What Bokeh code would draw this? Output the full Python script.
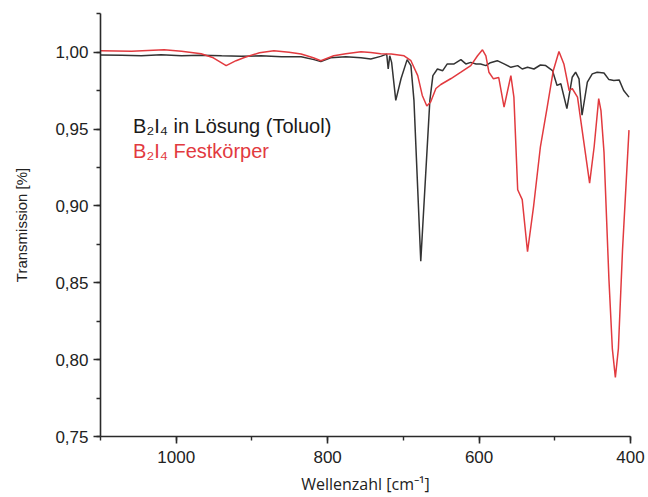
from bokeh.plotting import figure
from bokeh.models import Range1d, SingleIntervalTicker, CustomJSTickFormatter, Label
from bokeh.embed import file_html
from bokeh.resources import INLINE

# ---- data ----
wn_black = [1100, 1072, 1046, 1020, 993, 967, 940, 914, 888, 861,
            835, 818, 809, 796, 776, 756, 743, 730, 722, 720,
            718, 715.5, 710, 703, 695, 690, 686, 677, 665, 661,
            655, 648, 642, 633, 624, 617.5, 611, 604, 598, 591,
            585, 576, 567, 558, 549, 543, 536, 527.5, 519, 512,
            503, 497, 492, 484, 477, 472.5, 468, 464, 457, 450.5,
            444, 435, 428.5, 422, 415, 409, 402]
t_black = [0.9982, 0.9981, 0.9977, 0.9984, 0.9977, 0.9981, 0.9977, 0.9974, 0.9977, 0.9971,
           0.9971, 0.9952, 0.9939, 0.9964, 0.9971, 0.9964, 0.9956, 0.9973, 0.9988, 0.9891,
           0.9977, 0.9934, 0.9687, 0.9829, 0.9952, 0.9913, 0.9687, 0.864, 0.9687, 0.9848,
           0.9891, 0.9880, 0.9924, 0.9924, 0.9952, 0.9924, 0.9934, 0.9924, 0.9924, 0.9913,
           0.9932, 0.9945, 0.9924, 0.9902, 0.9913, 0.9891, 0.9902, 0.9891, 0.9917, 0.9913,
           0.9880, 0.9784, 0.9795, 0.9633, 0.9837, 0.9870, 0.9827, 0.9590, 0.9805, 0.9859,
           0.9870, 0.9865, 0.9822, 0.9816, 0.9820, 0.9751, 0.9708]

wn_red = [1100, 1059, 1016, 993, 967, 951, 934, 921, 910, 890,
          871, 851, 835, 819, 809, 792, 776, 756, 743, 730,
          716, 699, 690, 681, 675, 669, 664, 657, 650.5, 637,
          624, 611, 602, 595.5, 591, 587, 581, 574, 567, 558,
          554, 549, 543, 536, 528, 519, 510, 502, 494.5, 488,
          481, 477, 470, 462, 454, 448, 442, 439, 435, 428.5, 424,
          420, 416, 410.5, 402]
t_red = [1.0010, 1.0006, 1.0016, 1.0006, 0.9990, 0.9964, 0.9913, 0.9945, 0.9966, 0.9997,
         1.0010, 1.0000, 0.9988, 0.9964, 0.9945, 0.9977, 0.9990, 1.0003, 0.9999, 0.9990,
         0.9988, 0.9977, 0.9945, 0.9848, 0.9719, 0.9650, 0.9676, 0.9764, 0.9790, 0.9829,
         0.9870, 0.9913, 0.9977, 1.0016, 0.9977, 0.9870, 0.9827, 0.9835, 0.9643, 0.9848,
         0.9708, 0.9105, 0.9041, 0.8702, 0.8997, 0.9385, 0.9643, 0.9880, 1.0005, 0.9924,
         0.9751, 0.9764, 0.9708, 0.9428, 0.9149, 0.9385, 0.9698, 0.9620, 0.9350, 0.8524, 0.8072,
         0.7884, 0.8072, 0.8718, 0.9493]

label_black = "B\u2082I\u2084 in Lösung (Toluol)"
label_red = "B\u2082I\u2084 Festkörper"
x_title = "Wellenzahl [cm\u207b\u00b9]"
y_title = "Transmission [%]"

BLACK = "#333333"
RED = "#e23a3f"
FONT = "Liberation Sans"

p = figure(width=648, height=497,
           x_range=Range1d(1100, 400), y_range=Range1d(0.75, 1.0252),
           output_backend="svg", toolbar_location=None,
           min_border_left=100, min_border_right=18,
           min_border_top=13, min_border_bottom=59)
p.xgrid.visible = False
p.ygrid.visible = False
p.outline_line_color = None
p.background_fill_color = "white"
p.border_fill_color = "white"

p.line(wn_black, t_black, line_color=BLACK, line_width=1.5)
p.line(wn_red, t_red, line_color=RED, line_width=1.5)

p.xaxis.ticker = SingleIntervalTicker(interval=200, num_minor_ticks=2)
p.yaxis.ticker = SingleIntervalTicker(interval=0.05, num_minor_ticks=2)
p.yaxis.formatter = CustomJSTickFormatter(code="return tick.toFixed(2).replace('.', ',');")
p.xaxis.formatter = CustomJSTickFormatter(code="return tick.toFixed(0);")

for ax in (p.xaxis[0], p.yaxis[0]):
    ax.axis_line_width = 1.6
    ax.axis_line_color = "#2a2a2a"
    ax.major_tick_line_color = "#2a2a2a"
    ax.minor_tick_line_color = "#2a2a2a"
    ax.major_tick_line_width = 1.6
    ax.minor_tick_line_width = 1.4
    ax.major_tick_in = 0
    ax.major_tick_out = 7
    ax.minor_tick_in = 0
    ax.minor_tick_out = 4
    ax.major_label_text_font = FONT
    ax.major_label_text_font_size = "17px"
    ax.major_label_text_color = "#222222"
    ax.axis_label_text_font_style = "normal"
    ax.axis_label_text_color = "#222222"

p.xaxis.major_label_standoff = 7
p.yaxis.major_label_standoff = 5
p.xaxis.axis_label = x_title
p.xaxis.axis_label_text_font = "Open Sans"
p.xaxis.axis_label_text_font_size = "16px"
p.xaxis.axis_label_standoff = 7
p.yaxis.axis_label = y_title
p.yaxis.axis_label_text_font = FONT
p.yaxis.axis_label_text_font_size = "15px"
p.yaxis.axis_label_standoff = 22

p.add_layout(Label(x=1057, y=0.9519, text=label_black, text_font=FONT,
                   text_font_size="20px", text_color="#1a1a1a",
                   text_baseline="alphabetic"))
p.add_layout(Label(x=1057, y=0.9357, text=label_red, text_font=FONT,
                   text_font_size="20px", text_color=RED,
                   text_baseline="alphabetic"))

open("out.html", "w").write(file_html(p, INLINE))
